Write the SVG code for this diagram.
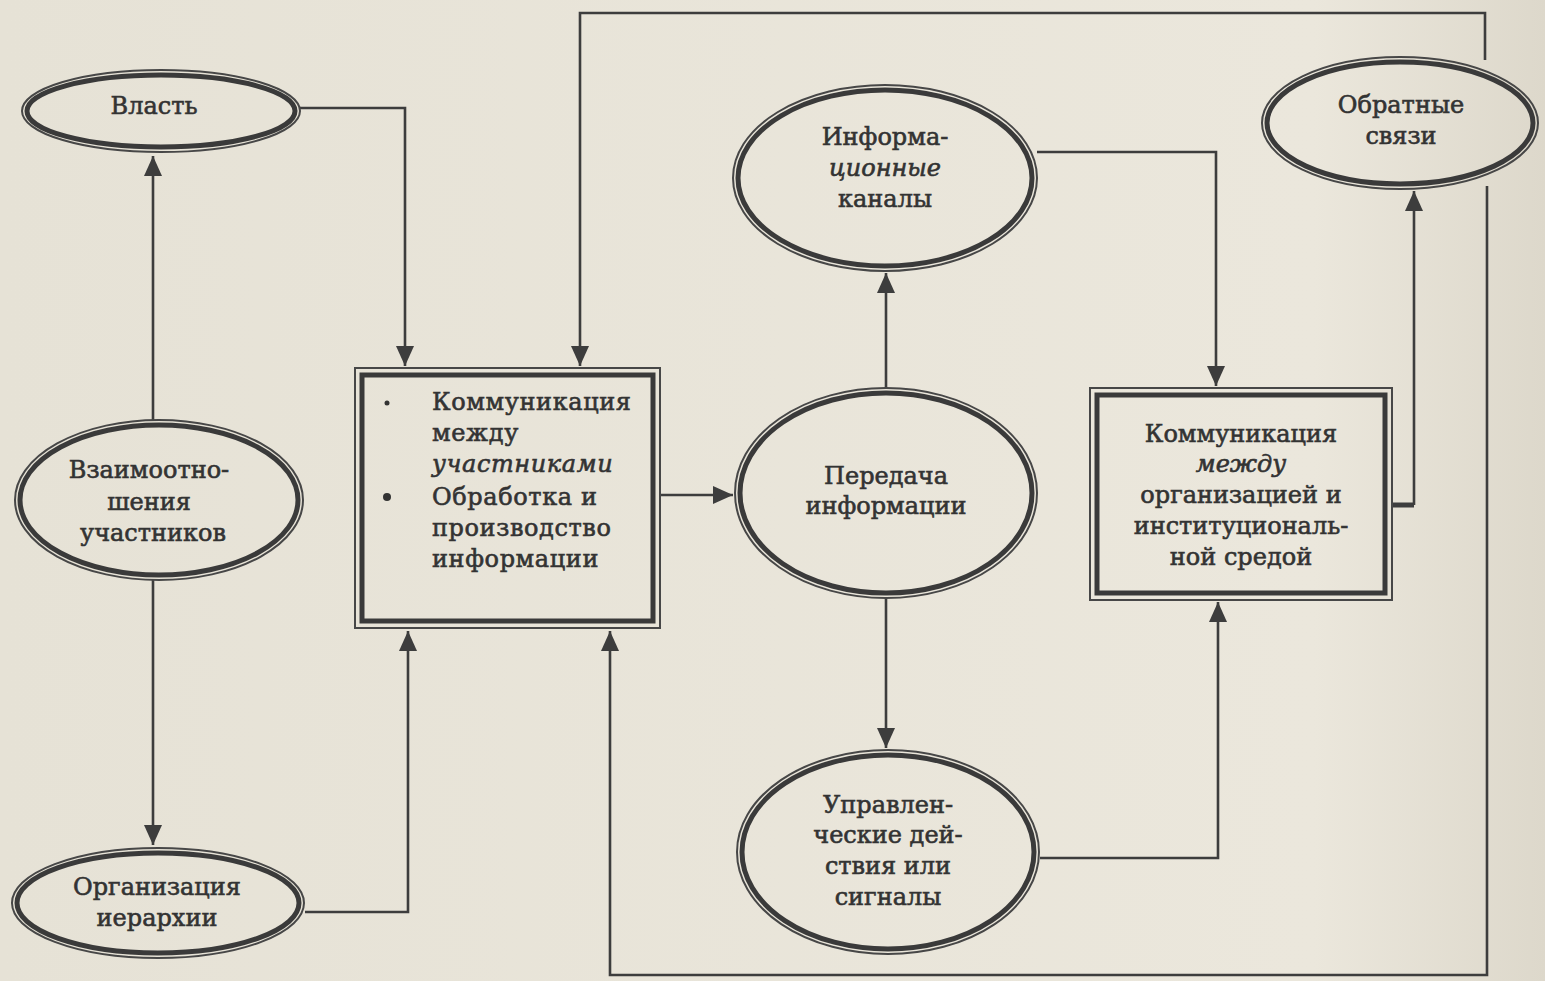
<svg xmlns="http://www.w3.org/2000/svg" width="1545" height="981" viewBox="0 0 1545 981">
  <defs>
    <marker id="arrow" viewBox="0 0 20 24" refX="20" refY="12" markerWidth="20" markerHeight="24" markerUnits="userSpaceOnUse" orient="auto">
      <path d="M0,3 L20,12 L0,21 Z" fill="#3d3d3d"/>
    </marker>
    <linearGradient id="paper" x1="0" y1="0" x2="1" y2="0">
      <stop offset="0" stop-color="#e6e2d6"/>
      <stop offset="0.85" stop-color="#ebe7dc"/>
      <stop offset="1" stop-color="#ddd8cb"/>
    </linearGradient>
  </defs>
  <style>
    .outer { fill: none; stroke: #474747; stroke-width: 2; }
    .inner { fill: none; stroke: #3a3a3a; stroke-width: 5; }
    .link { fill: none; stroke: #3d3d3d; stroke-width: 2.6; stroke-linejoin: miter; }
    .arr { marker-end: url(#arrow); }
    text { font-family: "DejaVu Serif", "Liberation Serif", serif; font-size: 24px; fill: #333333; stroke: #333333; stroke-width: 0.6; }
    .c { text-anchor: middle; }
    .i { font-style: italic; }
    .w { letter-spacing: 0.6px; }
  </style>

  <rect width="1545" height="981" fill="url(#paper)"/>

  <!-- connectors -->
  <g id="connectors">
    <path class="link arr" d="M300,108 H405 V366"/>
    <path class="link arr" d="M153,420 V156"/>
    <path class="link arr" d="M153,580 V845"/>
    <path class="link arr" d="M305,912 H408 V631"/>
    <path class="link arr" d="M660,495 H733"/>
    <path class="link arr" d="M886,388 V273"/>
    <path class="link arr" d="M886,598 V748"/>
    <path class="link arr" d="M1037,152 H1216 V386"/>
    <path class="link arr" d="M1040,858 H1218 V602"/>
    <path class="link" d="M1392,505 H1414" style="stroke-width:5"/>
    <path class="link arr" d="M1414,505 V191"/>
    <path class="link arr" d="M1485,60 V13 H580 V366"/>
    <path class="link arr" d="M1487,186 V975 H610 V631"/>
  </g>

  <!-- Власть -->
  <g id="vlast">
    <ellipse class="outer" cx="161" cy="111" rx="139" ry="41"/>
    <ellipse class="inner" cx="161" cy="111" rx="134" ry="36"/>
    <text class="c" x="154" y="114">Власть</text>
  </g>

  <!-- Взаимоотношения участников -->
  <g id="vzaimo">
    <ellipse class="outer" cx="159" cy="500" rx="144" ry="80"/>
    <ellipse class="inner" cx="159" cy="500" rx="139" ry="75"/>
    <text class="c" x="149" y="478">Взаимоотно-</text>
    <text class="c" x="149" y="510">шения</text>
    <text class="c" x="153" y="541">участников</text>
  </g>

  <!-- Организация иерархии -->
  <g id="ierarkh">
    <ellipse class="outer" cx="158" cy="903" rx="146" ry="55"/>
    <ellipse class="inner" cx="158" cy="903" rx="141" ry="50"/>
    <text class="c" x="157" y="895">Организация</text>
    <text class="c" x="157" y="926">иерархии</text>
  </g>

  <!-- Коммуникация между участниками -->
  <g id="box-uchastniki">
    <rect class="outer" x="355" y="368" width="305" height="260"/>
    <rect class="inner" x="362" y="375" width="291" height="246"/>
    <circle cx="387" cy="403" r="2.5" fill="#333"/>
    <circle cx="387" cy="497" r="4" fill="#333"/>
    <text class="w" x="432" y="410">Коммуникация</text>
    <text class="w" x="432" y="441">между</text>
    <text class="i w" x="432" y="472">участниками</text>
    <text class="w" x="432" y="505">Обработка и</text>
    <text class="w" x="432" y="536">производство</text>
    <text class="w" x="432" y="567">информации</text>
  </g>

  <!-- Информационные каналы -->
  <g id="kanaly">
    <ellipse class="outer" cx="885" cy="178" rx="152" ry="93"/>
    <ellipse class="inner" cx="885" cy="178" rx="147" ry="88"/>
    <text class="c" x="885" y="145">Информа-</text>
    <text class="c i" x="885" y="176">ционные</text>
    <text class="c" x="885" y="207">каналы</text>
  </g>

  <!-- Передача информации -->
  <g id="peredacha">
    <ellipse class="outer" cx="886" cy="493" rx="151" ry="105"/>
    <ellipse class="inner" cx="886" cy="493" rx="146" ry="100"/>
    <text class="c" x="886" y="484">Передача</text>
    <text class="c" x="886" y="514">информации</text>
  </g>

  <!-- Управленческие действия или сигналы -->
  <g id="upravl">
    <ellipse class="outer" cx="888" cy="852" rx="151" ry="102"/>
    <ellipse class="inner" cx="888" cy="852" rx="146" ry="97"/>
    <text class="c" x="888" y="813">Управлен-</text>
    <text class="c" x="888" y="843">ческие дей-</text>
    <text class="c" x="888" y="874">ствия или</text>
    <text class="c" x="888" y="905">сигналы</text>
  </g>

  <!-- Коммуникация между организацией и институциональной средой -->
  <g id="box-sreda">
    <rect class="outer" x="1090" y="388" width="302" height="212"/>
    <rect class="inner" x="1097" y="395" width="288" height="198"/>
    <text class="c" x="1241" y="442">Коммуникация</text>
    <text class="c i" x="1241" y="472">между</text>
    <text class="c" x="1241" y="503">организацией и</text>
    <text class="c" x="1241" y="534">институциональ-</text>
    <text class="c" x="1241" y="565">ной средой</text>
  </g>

  <!-- Обратные связи -->
  <g id="obratnye">
    <ellipse class="outer" cx="1400" cy="123" rx="138" ry="66"/>
    <ellipse class="inner" cx="1400" cy="123" rx="133" ry="61"/>
    <text class="c" x="1401" y="113">Обратные</text>
    <text class="c" x="1401" y="144">связи</text>
  </g>
</svg>
